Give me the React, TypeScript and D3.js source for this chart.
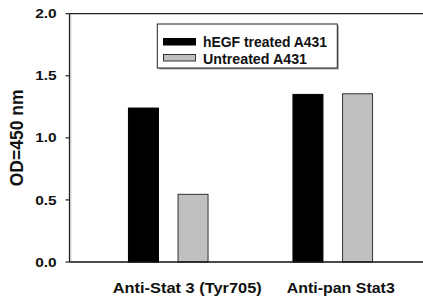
import React from "react";
import * as d3 from "d3";

const categories = ["Anti-Stat 3 (Tyr705)", "Anti-pan Stat3"];
const seriesNames = ["hEGF treated A431", "Untreated A431"];
const hegfValues = [1.24, 1.35];
const untreatedValues = [0.545, 1.355];
const yTicks = [0, 0.5, 1.0, 1.5, 2.0];
const yTickLabels = ["0.0", "0.5", "1.0", "1.5", "2.0"];
const yLabel = "OD=450 nm";

const W = 423;
const H = 301;
const FONT = "'Liberation Sans', Arial, sans-serif";
const colors = ["#000000", "#c0c0c0"];
const strokes = ["#000000", "#333333"];
const labelDx = [19, 8];
const labelLen = [149, 108];
const legendLen = [124, 104];

export default function App() {
  const left = 69.5;
  const y = d3.scaleLinear().domain([0, 2]).range([262, 13.7]);
  const x0 = d3.scaleBand<string>().domain(categories).range([86, 415]);
  const bw = x0.bandwidth();
  const x1 = d3
    .scaleBand<string>()
    .domain(seriesNames)
    .range([bw / 2 - 39.8, bw / 2 + 39.8])
    .paddingInner(0.395)
    .paddingOuter(0);
  const seriesValues = [hegfValues, untreatedValues];

  return (
    <svg
      width={W}
      height={H}
      style={{ position: "absolute", left: 0, top: 0, background: "#fff" }}
      fontFamily={FONT}
      fontWeight="bold"
    >
      <rect x={0} y={0} width={W} height={H} fill="#fff" />
      {categories.map((c, ci) =>
        seriesNames.map((s, si) => {
          const v = seriesValues[si][ci];
          const bx = (x0(c) ?? 0) + (x1(s) ?? 0);
          return (
            <rect
              key={c + s}
              x={bx}
              y={y(v)}
              width={x1.bandwidth()}
              height={y(0) - y(v)}
              fill={colors[si]}
              stroke={strokes[si]}
              strokeWidth={1}
            />
          );
        })
      )}
      <line x1={left + 1.5} y1={y(2)} x2={left + 1.5} y2={y(0)} stroke="#d8d8d8" strokeWidth={1} />
      <line x1={left} y1={y(2)} x2={W} y2={y(2)} stroke="#222" strokeWidth={1.3} />
      <line x1={left} y1={y(0)} x2={W} y2={y(0)} stroke="#111" strokeWidth={1.4} />
      <line x1={left} y1={y(2)} x2={left} y2={y(0)} stroke="#222" strokeWidth={1.3} />
      {yTicks.map((t, i) => (
        <g key={t}>
          <line x1={left - 4} x2={left} y1={y(t)} y2={y(t)} stroke="#222" strokeWidth={1.2} />
          <text
            x={56.7}
            y={y(t) + 4.6}
            textAnchor="end"
            fontSize={13.5}
            textLength={21.5}
            lengthAdjust="spacingAndGlyphs"
            fill="#111"
          >
            {yTickLabels[i]}
          </text>
        </g>
      ))}
      <text
        transform={`translate(22.7, ${y(1)}) rotate(-90)`}
        textAnchor="middle"
        fontSize={17.5}
        fill="#111"
      >
        {yLabel}
      </text>
      {categories.map((c, ci) => (
        <text
          key={c}
          x={(x0(c) ?? 0) + bw / 2 + labelDx[ci]}
          y={293}
          textAnchor="middle"
          fontSize={15.5}
          textLength={labelLen[ci]}
          lengthAdjust="spacingAndGlyphs"
          fill="#111"
        >
          {c}
        </text>
      ))}
      <rect x={158.8} y={25.5} width={180} height={44} fill="#a0a0a0" />
      <rect x={157.3} y={24} width={180} height={44} fill="#fff" stroke="#222" strokeWidth={1} />
      {seriesNames.map((s, si) => (
        <g key={s}>
          <rect
            x={163.5}
            y={38.5 + si * 16}
            width={32}
            height={6.5}
            fill={colors[si]}
            stroke={strokes[si]}
            strokeWidth={1}
          />
          <text
            x={203}
            y={46.7 + si * 16.8}
            fontSize={14.5}
            textLength={legendLen[si]}
            lengthAdjust="spacingAndGlyphs"
            fill="#111"
          >
            {s}
          </text>
        </g>
      ))}
    </svg>
  );
}
